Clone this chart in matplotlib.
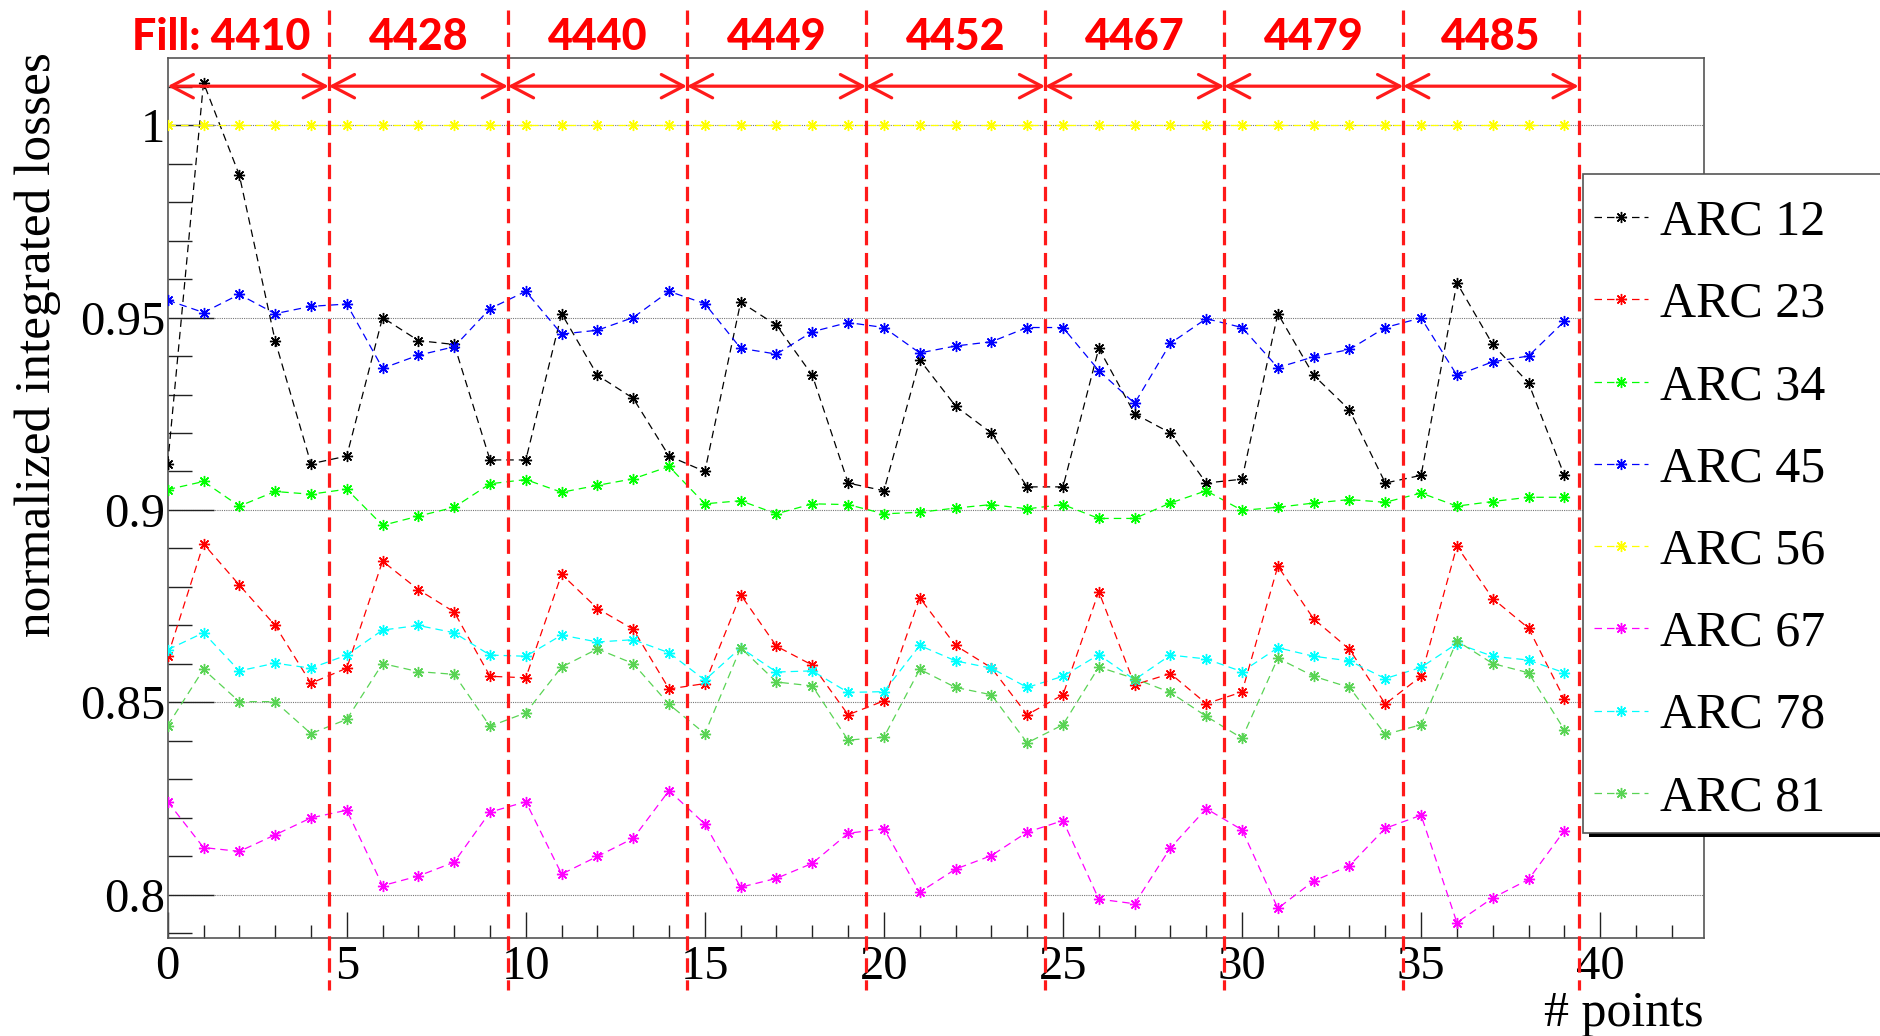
import numpy as np
import matplotlib.pyplot as plt
from matplotlib.patches import Rectangle
from matplotlib import transforms

# normalized integrated losses per arc, one point per measurement
points = np.arange(40)

arc12 = [0.912, 1.011, 0.987, 0.944, 0.912, 0.914, 0.950, 0.944, 0.943, 0.913,
         0.913, 0.951, 0.935, 0.929, 0.914, 0.910, 0.954, 0.948, 0.935, 0.907,
         0.905, 0.939, 0.927, 0.920, 0.906, 0.906, 0.942, 0.925, 0.920, 0.907,
         0.908, 0.951, 0.935, 0.926, 0.907, 0.909, 0.959, 0.943, 0.933, 0.909]
arc23 = [0.862, 0.8912, 0.8805, 0.870, 0.855, 0.8589, 0.8867, 0.8793, 0.8735, 0.8568,
         0.8564, 0.8833, 0.8744, 0.869, 0.8535, 0.8549, 0.878, 0.8646, 0.8597, 0.8468,
         0.8504, 0.8772, 0.8648, 0.859, 0.8468, 0.852, 0.8788, 0.8546, 0.8575, 0.8497,
         0.8527, 0.8854, 0.8717, 0.8638, 0.8496, 0.8568, 0.8906, 0.877, 0.8693, 0.8509]
arc34 = [0.9053, 0.9074, 0.901, 0.9048, 0.9041, 0.9054, 0.896, 0.8984, 0.9007, 0.9068,
         0.9079, 0.9046, 0.9064, 0.9081, 0.9113, 0.9016, 0.9024, 0.899, 0.9016, 0.9014,
         0.899, 0.8994, 0.9005, 0.9014, 0.9003, 0.9014, 0.8978, 0.8978, 0.9018, 0.905,
         0.8999, 0.9007, 0.9018, 0.9027, 0.902, 0.9044, 0.901, 0.9022, 0.9033, 0.9033]
arc45 = [0.9545, 0.9513, 0.956, 0.951, 0.9529, 0.9535, 0.9368, 0.9402, 0.9424, 0.9523,
         0.9568, 0.9457, 0.9467, 0.950, 0.9568, 0.9536, 0.942, 0.9405, 0.9463, 0.9487,
         0.9474, 0.9408, 0.9426, 0.9437, 0.9474, 0.9474, 0.9362, 0.9277, 0.9433, 0.9497,
         0.9474, 0.937, 0.9398, 0.9417, 0.9474, 0.9499, 0.935, 0.9385, 0.940, 0.949]
arc56 = [1.0, 1.0, 1.0, 1.0, 1.0, 1.0, 1.0, 1.0, 1.0, 1.0,
         1.0, 1.0, 1.0, 1.0, 1.0, 1.0, 1.0, 1.0, 1.0, 1.0,
         1.0, 1.0, 1.0, 1.0, 1.0, 1.0, 1.0, 1.0, 1.0, 1.0,
         1.0, 1.0, 1.0, 1.0, 1.0, 1.0, 1.0, 1.0, 1.0, 1.0]
arc67 = [0.8242, 0.8123, 0.8113, 0.8156, 0.820, 0.822, 0.8024, 0.8049, 0.8085, 0.8215,
         0.8242, 0.8054, 0.810, 0.8147, 0.8271, 0.8184, 0.802, 0.8043, 0.8082, 0.816,
         0.8172, 0.8007, 0.8067, 0.8102, 0.8163, 0.8193, 0.7989, 0.7977, 0.8122, 0.8224,
         0.8169, 0.7965, 0.8036, 0.8076, 0.8173, 0.8207, 0.7928, 0.7992, 0.804, 0.8167]
arc78 = [0.8637, 0.8681, 0.8582, 0.8602, 0.8589, 0.8623, 0.8688, 0.870, 0.8681, 0.8623,
         0.862, 0.8675, 0.8657, 0.8663, 0.8629, 0.8558, 0.8642, 0.8579, 0.8582, 0.8526,
         0.8528, 0.8648, 0.8608, 0.8589, 0.8539, 0.8568, 0.8624, 0.8559, 0.8623, 0.8613,
         0.858, 0.8642, 0.862, 0.8608, 0.8562, 0.8591, 0.8653, 0.862, 0.861, 0.8577]
arc81 = [0.844, 0.8586, 0.8502, 0.8502, 0.8419, 0.8456, 0.8601, 0.858, 0.8573, 0.8438,
         0.8473, 0.8592, 0.8639, 0.8601, 0.8495, 0.8419, 0.8642, 0.8553, 0.8543, 0.8402,
         0.841, 0.8586, 0.8539, 0.852, 0.8395, 0.8442, 0.8592, 0.8562, 0.8526, 0.8464,
         0.8407, 0.8615, 0.8568, 0.8539, 0.8417, 0.8442, 0.866, 0.8601, 0.8577, 0.8429]

arc_names = ['ARC 12', 'ARC 23', 'ARC 34', 'ARC 45', 'ARC 56', 'ARC 67', 'ARC 78', 'ARC 81']
arc_series = [arc12, arc23, arc34, arc45, arc56, arc67, arc78, arc81]
# ROOT palette 1..8
arc_colors = ['#000000', '#ff0000', '#00ff00', '#0000ff', '#ffff00', '#ff00ff', '#00ffff', '#59d454']

fills = ['4410', '4428', '4440', '4449', '4452', '4467', '4479', '4485']
fill_edges = [0, 4.5, 9.5, 14.5, 19.5, 24.5, 29.5, 34.5, 39.4]

W, H = 1881, 1036
fig = plt.figure(figsize=(W/100, H/100), dpi=100)
ax = fig.add_axes([167.7/W, 1-938/H, (1704-167.7)/W, (938-57.7)/H])

serif = 'Liberation Serif'
star = (8, 2, 0)

handles = []
for name, vals, col in zip(arc_names, arc_series, arc_colors):
    h, = ax.plot(points, vals, ls=(0, (6, 4)), lw=0.9, color=col,
                 marker=star, ms=8, mew=1.0, label=name, zorder=3)
    handles.append(h)

ax.set_xlim(0, 42.9)
ax.set_ylim(0.7888, 1.0175)

ax.set_xticks(np.arange(0, 41, 5))
ax.set_xticks(np.arange(0, 43, 1), minor=True)
ax.set_yticks([0.8, 0.85, 0.9, 0.95, 1.0])
ax.set_yticks(np.arange(0.79, 1.011, 0.01), minor=True)
ax.set_yticklabels(['0.8', '0.85', '0.9', '0.95', '1'])

ax.tick_params(axis='both', which='both', direction='in', color='#222222', width=1.0)
ax.tick_params(axis='y', which='major', length=33, pad=2, labelsize=35)
ax.tick_params(axis='y', which='minor', length=17)
ax.tick_params(axis='x', which='major', length=19, pad=5, labelsize=35)
ax.tick_params(axis='x', which='minor', length=9.5)
for lab in ax.get_xticklabels() + ax.get_yticklabels():
    lab.set_fontfamily(serif)

ax.yaxis.grid(True, which='major', ls=(0, (1, 1)), lw=0.8, color='#777777', zorder=0)
ax.set_axisbelow(True)
for sp in ax.spines.values():
    sp.set_color('#555555')
    sp.set_linewidth(1.2)

fig.text(38/W, 1-345/H, 'normalized integrated losses', rotation=90, ha='center', va='center',
         fontsize=37, family=serif)
fig.text(1704/W, 1-1026/H, '# points', ha='right', va='baseline', fontsize=36, family=serif)

# fill boundaries, arrows and labels
xfig = transforms.blended_transform_factory(ax.transData, fig.transFigure)
for xe in fill_edges[1:]:
    ax.plot([xe, xe], [1-10/H, 1-990/H], transform=xfig, color='#ff1a1a', lw=2.3,
            ls=(0, (4.5, 2.4)), clip_on=False, zorder=6)

arrow_y = 1.0101
for a, b in zip(fill_edges[:-1], fill_edges[1:]):
    ax.annotate('', xy=(b, arrow_y), xytext=(a, arrow_y),
                arrowprops=dict(arrowstyle='<->,head_length=0.8,head_width=0.42',
                                color='#ff1a1a', lw=2.3, mutation_scale=20,
                                shrinkA=0, shrinkB=0), zorder=7)

for i, f in enumerate(fills):
    xc = (fill_edges[i] + fill_edges[i+1]) / 2
    txt = f
    if i == 0:
        xc, txt = 1.5, 'Fill: ' + f
    ax.text(xc, 1-50/H, txt, transform=xfig, ha='center', va='baseline',
            fontsize=31, fontweight='black', family='Lato', color='#ff0000')

# legend box with ROOT-like shadow
fig.patches.append(Rectangle((1589/W, 1-837/H), 330/W, (837-178)/H, transform=fig.transFigure,
                             facecolor='black', edgecolor='none', zorder=4))
fig.patches.append(Rectangle((1583/W, 1-833/H), 330/W, (833-174)/H, transform=fig.transFigure,
                             facecolor='white', edgecolor='#555555', lw=1.2, zorder=4.5))
fig.legend(handles=handles, loc='upper left', bbox_to_anchor=(1594/W, 1-199/H),
           frameon=False, borderpad=0, borderaxespad=0, handlelength=1.08,
           handletextpad=0.24, labelspacing=0.715, numpoints=1,
           prop={'family': serif, 'size': 36})

fig.savefig('out.png', dpi=100)
